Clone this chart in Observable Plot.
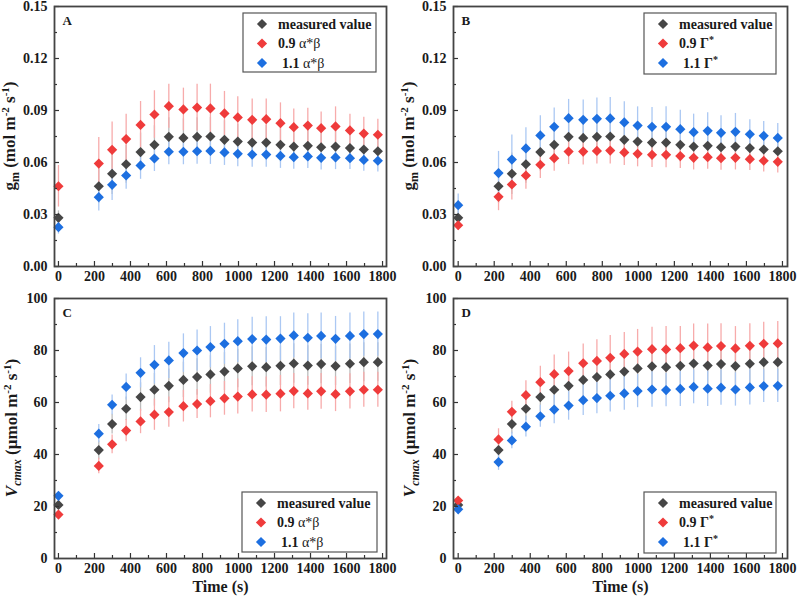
<!DOCTYPE html>
<html>
<head>
<meta charset="utf-8">
<script src="https://cdn.jsdelivr.net/npm/d3@7"></script>
<script src="https://cdn.jsdelivr.net/npm/@observablehq/plot@0.6"></script>
<style>
  body { margin: 0; background: #fff; }
  #fig { position: relative; width: 797px; height: 604px; background: #fff; }
  .panel { position: absolute; }
  .panel svg text { white-space: pre; }
</style>
</head>
<body>
<div id="fig"></div>
<script>
// Sampling times (s) after the light step
const time = [0, 224, 298, 376, 456, 533, 613, 694, 770, 844, 922, 996, 1076, 1154, 1233, 1307, 1385, 1459, 1539, 1619, 1696, 1774];

// Mesophyll conductance g_m (mol m-2 s-1): means and SD
const gmMeasured   = [0.0281, 0.0463, 0.0535, 0.0590, 0.0660, 0.0702, 0.0748, 0.0742, 0.0748, 0.0750, 0.0731, 0.0721, 0.0715, 0.0715, 0.0702, 0.0692, 0.0696, 0.0688, 0.0692, 0.0683, 0.0675, 0.0665];
const gmMeasuredSd = [0.004, 0.010, 0.012, 0.011, 0.011, 0.011, 0.011, 0.011, 0.011, 0.011, 0.011, 0.010, 0.010, 0.010, 0.010, 0.009, 0.009, 0.009, 0.009, 0.008, 0.008, 0.008];
const gmAB09   = [0.0463, 0.0594, 0.0673, 0.0735, 0.0817, 0.0877, 0.0925, 0.0906, 0.0917, 0.0912, 0.0883, 0.0860, 0.0846, 0.0850, 0.0827, 0.0804, 0.0813, 0.0798, 0.0808, 0.0785, 0.0767, 0.0760];
const gmAB09Sd = [0.012, 0.015, 0.016, 0.0144, 0.0135, 0.0137, 0.0127, 0.0123, 0.0135, 0.014, 0.0127, 0.012, 0.012, 0.0117, 0.0117, 0.0104, 0.010, 0.0094, 0.0113, 0.0094, 0.0094, 0.009];
const gmAB11   = [0.0227, 0.0400, 0.0471, 0.0525, 0.0583, 0.0623, 0.0662, 0.0662, 0.0665, 0.0667, 0.0658, 0.0650, 0.0646, 0.0646, 0.0638, 0.0631, 0.0635, 0.0627, 0.0629, 0.0625, 0.0615, 0.0610];
const gmAB11Sd = [0.004, 0.008, 0.009, 0.008, 0.008, 0.0075, 0.0075, 0.0075, 0.0075, 0.0078, 0.0075, 0.0075, 0.0073, 0.0073, 0.0072, 0.007, 0.007, 0.007, 0.007, 0.0065, 0.0065, 0.0065];
const gmG09    = [0.0238, 0.0402, 0.0473, 0.0525, 0.0587, 0.0625, 0.0663, 0.0663, 0.0667, 0.0669, 0.0658, 0.0650, 0.0644, 0.0644, 0.0637, 0.0627, 0.0631, 0.0625, 0.0627, 0.0619, 0.0610, 0.0604];
const gmG09Sd  = [0.003, 0.008, 0.009, 0.008, 0.008, 0.0075, 0.0075, 0.0078, 0.0075, 0.0078, 0.0075, 0.0075, 0.0073, 0.0075, 0.0072, 0.007, 0.007, 0.007, 0.007, 0.0065, 0.0065, 0.0065];
const gmG11    = [0.0354, 0.0539, 0.0617, 0.0681, 0.0756, 0.0806, 0.0856, 0.0846, 0.0852, 0.0854, 0.0831, 0.0813, 0.0806, 0.0806, 0.0792, 0.0775, 0.0783, 0.0771, 0.0777, 0.0763, 0.0754, 0.0742];
const gmG11Sd  = [0.0064, 0.0125, 0.0142, 0.012, 0.0114, 0.0108, 0.0108, 0.0115, 0.012, 0.0121, 0.012, 0.0108, 0.0111, 0.0115, 0.011, 0.0104, 0.0104, 0.0098, 0.0106, 0.0083, 0.0083, 0.0083];

// Maximum carboxylation rate V_cmax (µmol m-2 s-1): means and SD
const vcMeasured   = [20.6, 41.7, 51.7, 57.6, 62.1, 64.9, 66.4, 68.7, 69.8, 70.8, 71.9, 73.1, 73.9, 73.6, 74.1, 75.0, 74.2, 74.8, 74.0, 74.9, 75.5, 75.5];
const vcMeasuredSd = [1.5, 3.5, 3.8, 4.5, 5.5, 6.3, 6.5, 6.8, 7.0, 7.2, 7.3, 7.4, 7.5, 7.6, 7.6, 7.6, 7.6, 7.6, 7.5, 7.6, 7.5, 7.5];
const vcAB09   = [16.9, 35.6, 43.9, 49.2, 52.7, 55.3, 56.3, 58.6, 59.4, 60.5, 61.6, 62.3, 63.1, 63.0, 63.4, 64.4, 63.5, 64.3, 63.2, 64.3, 64.9, 64.9];
const vcAB09Sd = [1.0, 3.0, 3.6, 4.3, 4.7, 6.0, 5.8, 6.1, 5.6, 6.4, 6.5, 6.7, 6.8, 6.8, 7.0, 6.8, 6.5, 6.9, 6.7, 6.8, 6.7, 6.7];
const vcAB11   = [24.1, 48.0, 59.1, 66.0, 71.4, 74.5, 76.2, 79.0, 80.0, 81.3, 82.6, 83.6, 84.4, 84.2, 84.6, 85.8, 84.9, 85.6, 84.5, 85.6, 86.3, 86.3];
const vcAB11Sd = [1.5, 3.5, 3.8, 5.0, 5.8, 7.4, 7.0, 7.4, 7.9, 7.9, 7.9, 8.2, 8.4, 8.8, 8.4, 8.6, 9.2, 8.8, 8.6, 8.8, 8.5, 8.5];
const vcG09    = [22.3, 45.8, 56.4, 62.8, 67.8, 70.9, 72.1, 75.1, 76.0, 77.2, 78.7, 79.6, 80.5, 80.4, 80.9, 81.9, 81.2, 81.7, 80.8, 81.8, 82.6, 82.7];
const vcG09Sd  = [1.5, 4.1, 4.1, 5.6, 6.1, 7.4, 7.3, 7.4, 8.1, 8.6, 8.2, 8.5, 8.4, 8.8, 8.3, 8.3, 9.0, 8.6, 8.4, 8.5, 8.3, 8.5];
const vcG11    = [18.9, 37.1, 45.4, 50.7, 54.7, 57.3, 58.8, 60.9, 61.7, 62.6, 63.5, 64.4, 65.0, 64.8, 65.2, 66.0, 65.3, 65.7, 65.0, 65.8, 66.3, 66.4];
const vcG11Sd  = [1.2, 3.2, 3.2, 4.0, 4.2, 5.5, 5.6, 5.9, 6.0, 6.3, 6.5, 6.4, 6.8, 6.4, 6.7, 6.5, 6.8, 6.8, 6.4, 6.8, 6.3, 6.4];

// Axis ticks
const timeTicks  = [0, 200, 400, 600, 800, 1000, 1200, 1400, 1600, 1800];
const timeMinor  = [100, 300, 500, 700, 900, 1100, 1300, 1500, 1700];
const gmTicks    = [0, 0.03, 0.06, 0.09, 0.12, 0.15];
const gmMinor    = [0.015, 0.045, 0.075, 0.105, 0.135];
const vcTicks    = [0, 20, 40, 60, 80, 100];
const vcMinor    = [10, 30, 50, 70, 90];

// Legend labels
const seriesMeasured = "measured value";
const factorLow = "0.9 ";
const factorHigh = "1.1 ";

const COLOR = { measured: "#464646", low: "#ef3b3b", high: "#1d6fe0" };
const BAR   = { measured: "#bcbcbc", low: "#f7abab", high: "#abc8f3" };
const R = 4.6;
const FONT = "'Liberation Serif', 'Times New Roman', serif";

const rows = (values, sd) => time.map((t, i) => ({ t, v: values[i], e: sd[i] }));

function panel(cfg) {
  const marks = [];
  for (const s of cfg.series) {
    marks.push(Plot.ruleX(s.rows, { x: "t", y1: d => d.v - d.e, y2: d => d.v + d.e, stroke: BAR[s.key], strokeWidth: 1.3 }));
  }
  for (const s of cfg.series) {
    marks.push(Plot.dot(s.rows, { x: "t", y: "v", symbol: "diamond2", r: R, fill: COLOR[s.key] }));
  }
  marks.push(
    // tick labels
    Plot.axisY(cfg.yTicks, { anchor: "left", tickSize: 0, tickPadding: 7, tickFormat: cfg.yFormat, label: null }),
    Plot.axisX(timeTicks, { anchor: "bottom", tickSize: 0, tickPadding: 5, tickFormat: d => String(d), label: null }),
    // inward tick marks
    Plot.axisY(cfg.yTicks, { anchor: "left", tickSize: 5, dx: 5, fill: "none", stroke: "#333", strokeWidth: 1.2, label: null }),
    Plot.axisY(cfg.yMinor, { anchor: "left", tickSize: 3, dx: 3, fill: "none", stroke: "#333", strokeWidth: 1.2, label: null }),
    Plot.axisX(timeTicks, { anchor: "bottom", tickSize: 5, dy: -5, fill: "none", stroke: "#333", strokeWidth: 1.2, label: null }),
    Plot.axisX(timeMinor, { anchor: "bottom", tickSize: 3, dy: -3, fill: "none", stroke: "#333", strokeWidth: 1.2, label: null }),
    Plot.frame({ stroke: "#444", strokeWidth: 1.8 }),
    Plot.text([cfg.letter], { text: d => d, frameAnchor: "top-left", dx: 8, dy: 14, lineAnchor: "middle", fontSize: 13, fontWeight: "bold" })
  );
  if (cfg.timeLabel) {
    marks.push(Plot.text(["Time (s)"], { text: d => d, frameAnchor: "bottom", dy: 33, fontSize: 16, fontWeight: "bold" }));
  }
  const svgNode = Plot.plot({
    width: cfg.width, height: cfg.height,
    marginLeft: cfg.ml, marginRight: cfg.mr, marginTop: cfg.mt, marginBottom: cfg.mb,
    style: { fontFamily: FONT, fontWeight: "bold", fontSize: "14px", color: "#1a1a1a", background: "white", overflow: "visible" },
    x: { domain: cfg.xDomain },
    y: { domain: cfg.yDomain },
    marks
  });
  const svg = d3.select(svgNode);

  // rotated y-axis title with sub/superscripts
  const frameMid = cfg.mt + (cfg.height - cfg.mt - cfg.mb) / 2;
  const t = svg.append("text")
    .attr("transform", `translate(${cfg.labelX},${frameMid}) rotate(-90)`)
    .attr("text-anchor", "middle").attr("font-size", 17).attr("font-weight", "bold").attr("fill", "#1a1a1a");
  if (cfg.quantity === "gm") {
    t.append("tspan").text("g");
    t.append("tspan").attr("dy", 4).attr("font-size", 12).text("m");
    t.append("tspan").attr("dy", -4).text(" (mol m");
  } else {
    t.append("tspan").attr("font-style", "italic").text("V");
    t.append("tspan").attr("dy", 4).attr("font-size", 12).attr("font-style", "italic").text("cmax");
    t.append("tspan").attr("dy", -4).text(" (µmol m");
  }
  t.append("tspan").attr("dy", -6).attr("font-size", 11).text("-2");
  t.append("tspan").attr("dy", 6).text(" s");
  t.append("tspan").attr("dy", -6).attr("font-size", 11).text("-1");
  t.append("tspan").attr("dy", 6).text(")");

  // legend box
  const b = cfg.legendBox;
  const g = svg.append("g").attr("text-anchor", "start");
  g.append("rect").attr("x", b.x).attr("y", b.y).attr("width", b.w).attr("height", b.h)
    .attr("fill", "white").attr("stroke", "#555").attr("stroke-width", 1.2);
  const entries = [
    { key: "measured", factor: null },
    { key: "low", factor: factorLow },
    { key: "high", factor: factorHigh, indent: 4 }
  ];
  entries.forEach((e, i) => {
    const cy = b.y + 11 + i * 19.5;
    g.append("path").attr("transform", `translate(${b.x + 19},${cy})`)
      .attr("d", d3.symbol(d3.symbolDiamond2, Math.PI * R * R)()).attr("fill", COLOR[e.key]);
    const tx = g.append("text").attr("x", b.x + 35 + (e.indent || 0)).attr("y", cy).attr("dy", "0.35em")
      .attr("text-anchor", "start")
      .attr("font-size", 14).attr("font-weight", "bold").attr("fill", "#1a1a1a");
    if (!e.factor) { tx.text(seriesMeasured); return; }
    tx.append("tspan").text(e.factor);
    if (cfg.param === "ab") {
      tx.append("tspan").attr("font-weight", "normal").text("α*β");
    } else {
      tx.append("tspan").text("Γ");
      tx.append("tspan").attr("dy", -5).attr("font-size", 10).text("*");
    }
  });

  const holder = document.createElement("div");
  holder.className = "panel";
  holder.style.left = cfg.left + "px";
  holder.style.top = cfg.top + "px";
  holder.appendChild(svgNode);
  document.getElementById("fig").appendChild(holder);
}

const LEFT  = { left: 0,   width: 398, ml: 54, mr: 12, xDomain: [-22, 1822] };
const RIGHT = { left: 398, width: 399, ml: 55, mr: 10, xDomain: [-26, 1828] };
const TOP   = { top: 0,   height: 298, mt: 6, mb: 32 };
const BOT   = { top: 292, height: 312, mt: 6, mb: 46 };

panel({ ...LEFT, ...TOP, letter: "A", quantity: "gm", param: "ab", labelX: 15,
  yDomain: [0, 0.15], yTicks: gmTicks, yMinor: gmMinor, yFormat: d3.format(".2f"),
  series: [
    { key: "measured", rows: rows(gmMeasured, gmMeasuredSd) },
    { key: "low", rows: rows(gmAB09, gmAB09Sd) },
    { key: "high", rows: rows(gmAB11, gmAB11Sd) }
  ],
  legendBox: { x: 243, y: 13, w: 133, h: 59 } });

panel({ ...RIGHT, ...TOP, letter: "B", quantity: "gm", param: "gamma", labelX: 16,
  yDomain: [0, 0.15], yTicks: gmTicks, yMinor: gmMinor, yFormat: d3.format(".2f"),
  series: [
    { key: "measured", rows: rows(gmMeasured, gmMeasuredSd) },
    { key: "low", rows: rows(gmG09, gmG09Sd) },
    { key: "high", rows: rows(gmG11, gmG11Sd) }
  ],
  legendBox: { x: 246, y: 13, w: 132, h: 61 } });

panel({ ...LEFT, ...BOT, letter: "C", quantity: "vc", param: "ab", labelX: 17, timeLabel: true,
  yDomain: [0, 100], yTicks: vcTicks, yMinor: vcMinor, yFormat: d => String(d),
  series: [
    { key: "measured", rows: rows(vcMeasured, vcMeasuredSd) },
    { key: "low", rows: rows(vcAB09, vcAB09Sd) },
    { key: "high", rows: rows(vcAB11, vcAB11Sd) }
  ],
  legendBox: { x: 242, y: 200, w: 135, h: 60 } });

panel({ ...RIGHT, ...BOT, letter: "D", quantity: "vc", param: "gamma", labelX: 17, timeLabel: true,
  yDomain: [0, 100], yTicks: vcTicks, yMinor: vcMinor, yFormat: d => String(d),
  series: [
    { key: "measured", rows: rows(vcMeasured, vcMeasuredSd) },
    { key: "low", rows: rows(vcG09, vcG09Sd) },
    { key: "high", rows: rows(vcG11, vcG11Sd) }
  ],
  legendBox: { x: 246, y: 200, w: 132, h: 61 } });
</script>
</body>
</html>
